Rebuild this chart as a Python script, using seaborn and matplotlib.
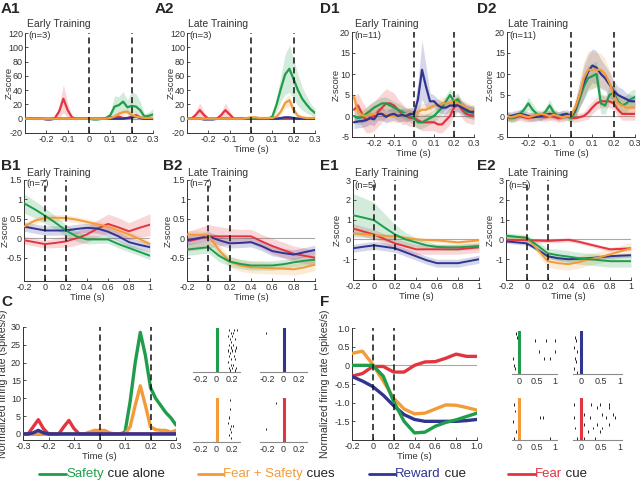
import numpy as np
import pandas as pd
import matplotlib
matplotlib.use("Agg")
import matplotlib.pyplot as plt
import seaborn as sns
from matplotlib.lines import Line2D

sns.set_style("ticks")
plt.rcParams["font.family"] = ["Liberation Sans", "DejaVu Sans"]

GREEN = "#1f9d4b"
ORANGE = "#f29b38"
BLUE = "#2f3590"
RED = "#e2353f"
W, H = 640, 493

# time bins
t_fine = np.round(np.arange(-0.3, 0.3001, 0.02), 2)   # A, C, D panels
t_coarse = np.round(np.arange(-0.2, 1.0001, 0.1), 1)  # B, E, F panels

# ---- A1 early training (n=3)
a1_green = [0,0,0,0,0,0,0,0,0,0,0,0,0,0,0,0,-1,-1,0,1,5,17,19,24,16,18,17,12,3,4,6]
a1_green_sem = [1,1,1,1,1,1,1,1,1,1,1,1,1,1,1,1,1,1,1,1,4,15,12,14,10,20,18,12,4,5,8]
a1_red = [0,0,0,0,0,0,0,1,10,28,12,2,0,0,0,0,0,0,0,1,2,1,3,1,1,2,5,2,0,0,0]
a1_red_sem = [1,1,1,1,1,1,1,2,8,20,10,2,1,1,1,1,1,1,1,1,2,1,2,1,1,2,3,2,1,1,1]
a1_orange = [0,0,0,0,0,0,0,0,0,0,0,0,0,0,0,0,0,0,0,0,1,3,7,9,10,5,3,2,1,1,1]
a1_orange_sem = [1,1,1,1,1,1,1,1,1,1,1,1,1,1,1,1,1,1,1,1,1,2,3,4,4,3,2,1,1,1,1]
a1_blue = [0,0,0,0,0,-1,-1,0,0,0,0,0,0,0,0,0,0,0,0,0,0,0,0,0,1,2,3,1,0,0,0]
a1_blue_sem = [1,1,1,1,1,1,1,1,1,1,1,1,1,1,1,1,1,1,1,1,1,1,1,1,1,1,1,1,1,1,1]

# ---- A2 late training (n=3)
a2_green = [0,0,0,0,0,0,0,0,0,0,0,0,0,0,0,0,0,0,0,0,3,20,42,62,70,55,40,28,20,13,8]
a2_green_sem = [1,1,1,1,1,1,1,1,1,1,1,1,1,1,1,1,1,1,1,1,2,10,18,28,33,28,22,16,12,8,6]
a2_red = [0,0,5,12,5,0,0,0,5,12,6,0,0,0,0,0,0,0,0,0,0,0,0,0,0,0,0,0,0,0,0]
a2_red_sem = [1,1,5,10,5,1,1,1,5,10,5,1,1,1,1,1,1,1,1,1,1,1,1,1,1,1,1,1,1,1,1]
a2_orange = [0,0,0,0,0,0,0,0,0,0,0,0,0,0,1,2,2,1,1,1,1,3,10,22,26,12,4,2,1,1,1]
a2_orange_sem = [1,1,1,1,1,1,1,1,1,1,1,1,1,1,1,1,1,1,1,1,1,2,4,7,8,5,2,1,1,1,1]
a2_blue = [0,0,0,0,-1,-1,-1,0,0,0,0,0,0,0,0,0,0,0,0,0,0,0,1,2,2,1,0,0,0,0,0]
a2_blue_sem = [1,1,1,1,1,1,1,1,1,1,1,1,1,1,1,1,1,1,1,1,1,1,1,1,1,1,1,1,1,1,1]

# ---- D1 early training (n=11)
d1_blue = [-1.5,-1.3,-1.2,-1.0,-0.5,-0.8,0.5,0.5,-0.2,0.3,0.5,0,0.3,0,0.5,0.5,4,11,7,3.5,3.5,2.5,2,2,2.5,2.5,2.5,2,1.5,1,1]
d1_blue_sem = [1.5,1.5,1.5,1.5,1.5,1.5,1.5,1.5,1.5,1.5,1.5,1.5,1.5,1.5,1.5,1.5,4,7,5,2,1.5,1.5,1.5,1.5,1.5,1.5,1.5,1.5,1.5,1.5,1.5]
d1_green = [0,-0.5,-0.3,0.5,1.2,2,2.5,3,3,2.5,2,1.5,1,0.5,0,-0.5,-1.5,-1.5,-1,-0.5,0,1,2,3.5,5,3.5,4,2,1,1,0.5]
d1_green_sem = [1.5,1.5,1.5,1.5,1.5,1.5,1.5,1.5,1.5,1.5,1.5,1.5,1.5,1.5,1.5,1.5,1.5,1.5,1.5,1.5,1.5,1.5,1.5,1.5,1.5,1.5,1.5,1.5,1.5,1.5,1.5]
d1_red = [1.5,2.5,0.5,-1,-0.5,0,1,2,3,3,2.5,1.5,0.5,0,-0.5,-0.5,-1,-1.5,-1.5,-1.5,-1.5,-2,-2,-1,0,2,3,1.5,0.5,0.2,0]
d1_red_sem = [3,3,3,3,3.5,3.5,3.5,3.5,3.5,3,3,2.5,2.5,2,2,2,2,2,2,2,2,2,2,2,2,2,2,2,2,2,2]
d1_orange = [4.5,1,0.2,0,0.3,0.5,0.5,0.5,0.3,0,0,0,0.3,0.5,0.5,0.5,1,1.5,1.5,2,2.5,2.5,3,3,3,3.5,3,2.5,2,1.5,1]
d1_orange_sem = [1.5,1.5,1.5,1.5,1.5,1.5,1.5,1.5,1.5,1.5,1.5,1.5,1.5,1.5,1.5,1.5,1.5,1.5,1.5,1.5,1.5,1.5,1.5,1.5,1.5,1.5,1.5,1.5,1.5,1.5,1.5]

# ---- D2 late training (n=11)
d2_blue = [0,0,0.3,0.5,0.3,0,-0.3,-0.2,0,0.3,0.5,0.3,0,0.3,0.5,0,1.5,5,8,10.5,12,11.5,10,9,7.5,6,5,4.5,4,3.5,3.5]
d2_blue_sem = [1,1,1,1,1,1,1,1,1,1,1,1,1,1,1,1,2,3,4,4,4,4,3.5,3,3,2.5,2,2,1.5,1.5,1.5]
d2_orange = [0,-0.3,0,0.3,0,-0.3,0,0.3,0.5,0.3,0,0.3,0,-0.3,0,0,2,5,9,11,11,11,11,10,8,5,3,2.5,2,2,2]
d2_orange_sem = [1,1,1,1,1,1,1,1,1,1,1,1,1,1,1,1,2,3,4,4.5,4.5,4,4,3.5,3,2.5,2,2,1.5,1.5,1.5]
d2_green = [0,-0.5,-0.3,0.5,1.5,3,1.5,0.5,0,1,2.5,0.8,0,0.3,0,-0.5,1,4,7,9,9.5,10,3,2.5,5,5.5,3.5,2.5,3,4,4.5]
d2_green_sem = [1,1,1,1,1,1.5,1.5,1,1,1,1.5,1,1,1,1,1,1.5,2,3,3,3,3,2.5,2,2,2,2,2,2,2,2]
d2_red = [-0.3,-0.5,-0.3,0,-0.3,-0.5,-0.3,0,-0.2,-0.3,0,-0.2,-0.5,-0.3,0,-0.3,-0.5,-0.3,0,0.8,2,3,3.5,3.5,3.5,3,1.5,0.5,0.5,0.5,0.5]
d2_red_sem = [1,1,1,1,1,1,1,1,1,1,1,1,1,1,1,1,1,1,1,1.5,1.5,1.5,1.5,1.5,1.5,1.5,1.5,1.5,1.5,1.5,1.5]

# ---- B1 / B2 (n=7)
b1_green = [0.9,0.75,0.58,0.4,0.2,0.05,-0.03,-0.03,-0.03,-0.15,-0.25,-0.35,-0.45]
b1_green_sem = [0.25,0.22,0.2,0.17,0.15,0.13,0.12,0.1,0.1,0.1,0.1,0.1,0.1]
b1_orange = [0.3,0.45,0.52,0.53,0.52,0.48,0.42,0.36,0.3,0.2,0.1,-0.02,-0.15]
b1_orange_sem = [0.08,0.08,0.08,0.08,0.08,0.08,0.08,0.08,0.08,0.08,0.08,0.08,0.08]
b1_blue = [0.3,0.25,0.2,0.2,0.2,0.24,0.27,0.25,0.17,0.05,-0.1,-0.17,-0.23]
b1_blue_sem = [0.12,0.12,0.12,0.12,0.12,0.12,0.12,0.12,0.12,0.12,0.12,0.12,0.12]
b1_red = [-0.05,-0.1,-0.15,-0.12,-0.08,0.0,0.1,0.25,0.37,0.28,0.18,0.27,0.35]
b1_red_sem = [0.1,0.1,0.1,0.12,0.15,0.18,0.2,0.22,0.25,0.25,0.22,0.25,0.28]

b2_green = [-0.29,-0.26,-0.23,-0.45,-0.6,-0.66,-0.7,-0.7,-0.7,-0.67,-0.62,-0.58,-0.55]
b2_green_sem = [0.15,0.15,0.15,0.15,0.12,0.12,0.12,0.12,0.12,0.12,0.12,0.12,0.12]
b2_orange = [0.1,0.09,0.07,-0.3,-0.6,-0.7,-0.75,-0.76,-0.77,-0.78,-0.8,-0.75,-0.68]
b2_orange_sem = [0.1,0.1,0.1,0.12,0.15,0.15,0.15,0.15,0.15,0.15,0.15,0.15,0.15]
b2_blue = [-0.05,0.0,0.05,-0.05,-0.13,-0.12,-0.1,-0.2,-0.33,-0.38,-0.42,-0.36,-0.3]
b2_blue_sem = [0.12,0.12,0.12,0.12,0.12,0.12,0.12,0.12,0.12,0.12,0.12,0.12,0.12]
b2_red = [-0.08,-0.02,0.05,0.05,0.05,0.05,0.05,-0.08,-0.2,-0.3,-0.4,-0.45,-0.5]
b2_red_sem = [0.25,0.28,0.3,0.25,0.2,0.18,0.18,0.18,0.2,0.2,0.2,0.2,0.2]

# ---- E1 / E2 (n=5)
e1_green = [1.22,1.1,0.97,0.6,0.25,0.0,-0.15,-0.3,-0.38,-0.4,-0.4,-0.37,-0.33]
e1_green_sem = [1.1,1.0,0.9,0.7,0.5,0.35,0.25,0.2,0.15,0.15,0.15,0.15,0.15]
e1_orange = [0.3,0.27,0.22,0.18,0.15,0.08,0.0,-0.03,-0.05,-0.1,-0.15,-0.1,-0.05]
e1_orange_sem = [0.1,0.1,0.1,0.1,0.1,0.1,0.1,0.1,0.1,0.1,0.1,0.1,0.1]
e1_red = [0.55,0.4,0.25,0.02,-0.2,-0.35,-0.5,-0.5,-0.5,-0.5,-0.5,-0.45,-0.4]
e1_red_sem = [0.25,0.25,0.25,0.25,0.25,0.25,0.25,0.25,0.25,0.25,0.25,0.25,0.25]
e1_blue = [-0.45,-0.37,-0.3,-0.37,-0.45,-0.65,-0.85,-1.05,-1.2,-1.2,-1.2,-1.1,-1.0]
e1_blue_sem = [0.2,0.2,0.2,0.2,0.2,0.2,0.2,0.2,0.2,0.2,0.2,0.2,0.2]

e2_green = [0.19,0.13,0.08,-0.3,-0.7,-0.8,-0.87,-0.95,-1.0,-1.05,-1.1,-1.1,-1.1]
e2_green_sem = [0.15,0.15,0.15,0.2,0.25,0.3,0.3,0.3,0.3,0.3,0.3,0.3,0.3]
e2_orange = [0.15,0.12,0.08,-0.5,-1.1,-1.2,-1.25,-1.15,-1.0,-0.9,-0.75,-0.6,-0.45]
e2_orange_sem = [0.1,0.1,0.1,0.2,0.3,0.3,0.3,0.3,0.3,0.3,0.3,0.3,0.3]
e2_blue = [-0.1,-0.15,-0.2,-0.5,-0.85,-0.95,-1.0,-0.98,-0.95,-0.9,-0.85,-0.82,-0.8]
e2_blue_sem = [0.1,0.1,0.1,0.1,0.1,0.1,0.1,0.1,0.1,0.1,0.1,0.1,0.1]
e2_red = [-0.02,-0.03,-0.05,-0.06,-0.08,-0.05,-0.02,-0.12,-0.25,-0.38,-0.5,-0.48,-0.45]
e2_red_sem = [0.1,0.1,0.1,0.1,0.1,0.1,0.1,0.1,0.1,0.1,0.1,0.1,0.1]

# ---- C single neuron firing rate
c_green = [0,0,0,0,0,0,0,0,0,0,0,0,0,0,0,0,0,0,0,0,0.5,9,20,28.5,22,13,10,8,6,4.5,2.5]
c_orange = [0,0,0,0,0,0,0,0,0,0,0,0,0,0.5,1,1,1,0.3,0,0,0,2,8,13.5,8,2,1.2,1,1,0.5,1]
c_red = [0,0,2,4,1.5,0,0,0,2,3.8,1.5,0,0,0,0,0,0,0,0,0,0,0,0,0,0,0,0,0,0,0,0]
c_blue = [0,0,0.3,1,0.3,0,0,0,0,0,0,0,0,0,0,0,0,0,0,0,0,0,0,0,0,0,0,0,0,0,0]

# C rasters (spike time, trial row)
c_green_spk = [0.16,0.22,0.26,0.18,0.21,0.15,0.2,0.17,0.24,0.19,0.16,0.21,0.18,0.25,0.15,0.2,0.23,0.17,0.16,0.22,0.19,0.24,0.15,0.18,0.21,0.16,0.2,0.25,0.17,0.23]
c_green_row = [0,0,0,1,1,2,2,3,3,4,5,5,6,6,7,7,7,8,9,9,10,10,11,12,12,13,13,13,14,14]
c_blue_spk = [-0.22]
c_blue_row = [1]
c_orange_spk = [0.17,0.17,0.16,0.15,0.18,0.21,0.17,0.19,0.16,0.18,0.01]
c_orange_row = [0,3,6,8,9,9,10,11,12,13,7]
c_red_spk = [-0.1,-0.22]
c_red_row = [1,10]

# ---- F single neuron firing rate
f_green = [0,0,0,-0.29,-0.97,-1.5,-1.81,-1.79,-1.63,-1.53,-1.46,-1.37,-1.28]
f_orange = [0.32,0.38,0.02,-0.42,-0.88,-1.17,-1.3,-1.28,-1.17,-1.06,-1.07,-1.13,-1.2]
f_blue = [-0.3,-0.42,-0.57,-0.8,-1.08,-1.32,-1.45,-1.5,-1.5,-1.5,-1.5,-1.48,-1.45]
f_red = [-0.29,-0.22,-0.03,-0.03,-0.18,-0.18,0.0,0.09,0.1,0.19,0.3,0.24,0.24]

f_green_spk = [-0.1,-0.05,0.44,0.75,1.0,0.56,1.0,0.69,0.86,-0.16,-0.15,-0.12]
f_green_row = [0,1,2,2,2,5,5,7,7,7,9,10]
f_blue_spk = [-0.15,-0.12,-0.17,-0.1,-0.15,-0.13,-0.18,-0.1]
f_blue_row = [1,2,4,5,7,8,10,11]
f_orange_spk = [-0.15,-0.12,-0.16,-0.1,-0.14,0.58,0.66,0.86]
f_orange_row = [1,3,6,9,11,5,5,11]
f_red_spk = [-0.18,0.27,0.5,0.72, 0.0,0.41,0.71, 0.09,0.54,0.81, -0.18,0.23,0.63,0.86,
             0.09,0.41,0.72, -0.14,0.32,0.54, 0.0,0.18,0.5, -0.09,0.09,0.36]
f_red_row = [1,1,1,1, 2,2,2, 4,4,4, 5,5,5,5, 7,7,7, 8,8,8, 9,9,9, 11,11,11]

fig = plt.figure(figsize=(6.4, 4.93), dpi=100)


def rect(x0, y0, x1, y1):
    return [x0 / W, 1 - y1 / H, (x1 - x0) / W, (y1 - y0) / H]


def ftext(x, y, s, **kw):
    return fig.text(x / W, 1 - y / H, s, **kw)


def lab(v):
    return "0" if abs(v) < 1e-9 else f"{v:g}"


def style(ax):
    sns.despine(ax=ax)
    for s in ["left", "bottom"]:
        ax.spines[s].set_linewidth(0.7)
        ax.spines[s].set_color("#333333")
    ax.tick_params(direction="in", length=2, width=0.6, labelsize=6.5,
                   pad=1.5, colors="#333333")


def trace(box, t, series, xlim, ylim, xticks, yticks, lw, ylx, ylabel="Z-score",
          xlabel=True, zero=True, xtl=None, ytl=None, ylsize=6.8):
    ax = fig.add_axes(rect(*box))
    if zero:
        ax.axhline(0, color="#a8a8a8", lw=0.8, zorder=1)
    for y, sem, c in series:
        if sem is not None:
            y = np.asarray(y, float)
            sem = np.asarray(sem, float)
            ax.fill_between(t, y - sem, y + sem, color=c, alpha=0.2, lw=0, zorder=2)
    for y, sem, c in series:
        sns.lineplot(x=t, y=y, color=c, lw=lw, ax=ax, zorder=3)
    for v in (0, 0.2):
        ax.axvline(v, color="#111111", lw=1.1, ls=(0, (4, 2.5)), zorder=4)
    ax.set_xlim(*xlim)
    ax.set_ylim(*ylim)
    ax.set_xticks(xticks)
    ax.set_xticklabels(xtl if xtl else [lab(v) for v in xticks])
    ax.set_yticks(yticks)
    ax.set_yticklabels(ytl if ytl else [lab(v) for v in yticks])
    style(ax)
    ax.set_ylabel(ylabel, fontsize=ylsize, color="#333333")
    ax.yaxis.set_label_coords(ylx, 0.5)
    ax.set_xlabel("Time (s)" if xlabel else "", fontsize=6.8, labelpad=1,
                  color="#333333")
    return ax


def raster(box, spk, rows, nrows, c, xlim, xticks, xtl):
    ax = fig.add_axes(rect(*box))
    rows = np.asarray(rows, float)
    ax.vlines(spk, rows - 0.4, rows + 0.4, color="#222222", lw=0.7)
    ax.axvline(0, color=c, lw=2.2)
    ax.set_xlim(*xlim)
    ax.set_ylim(nrows - 0.5, -0.8)
    ax.set_yticks([])
    ax.set_xticks(xticks)
    ax.set_xticklabels(xtl)
    for s in ["left", "top", "right"]:
        ax.spines[s].set_visible(False)
    ax.spines["bottom"].set_color("#8a8a8a")
    ax.spines["bottom"].set_linewidth(0.8)
    ax.tick_params(length=0, labelsize=6.5, pad=2, colors="#333333")
    ax.set_facecolor("none")
    return ax


xt_a = [-0.2, -0.1, 0, 0.1, 0.2, 0.3]
xt_b = [-0.2, 0, 0.2, 0.4, 0.6, 0.8, 1.0]

# row 1
trace((25, 33, 153, 133), t_fine,
      [(a1_red, a1_red_sem, RED), (a1_blue, a1_blue_sem, BLUE),
       (a1_green, a1_green_sem, GREEN), (a1_orange, a1_orange_sem, ORANGE)],
      (-0.3, 0.3), (-20, 120), xt_a, list(range(-20, 121, 20)), 1.6, -0.085,
      xlabel=False)
trace((187, 33, 315, 133), t_fine,
      [(a2_red, a2_red_sem, RED), (a2_blue, a2_blue_sem, BLUE),
       (a2_green, a2_green_sem, GREEN), (a2_orange, a2_orange_sem, ORANGE)],
      (-0.3, 0.3), (-20, 120), xt_a, list(range(-20, 121, 20)), 1.6, -0.085)
trace((352, 32, 474, 137), t_fine,
      [(d1_red, d1_red_sem, RED), (d1_green, d1_green_sem, GREEN),
       (d1_orange, d1_orange_sem, ORANGE), (d1_blue, d1_blue_sem, BLUE)],
      (-0.31, 0.3), (-5, 20), xt_a, [-5, 0, 5, 10, 15, 20], 1.6, -0.09)
trace((507, 32, 635, 137), t_fine,
      [(d2_red, d2_red_sem, RED), (d2_green, d2_green_sem, GREEN),
       (d2_blue, d2_blue_sem, BLUE), (d2_orange, d2_orange_sem, ORANGE)],
      (-0.3, 0.3), (-5, 20), xt_a, [-5, 0, 5, 10, 15, 20], 1.6, -0.095)

# row 2
trace((24, 180, 150, 281), t_coarse,
      [(b1_red, b1_red_sem, RED), (b1_blue, b1_blue_sem, BLUE),
       (b1_orange, b1_orange_sem, ORANGE), (b1_green, b1_green_sem, GREEN)],
      (-0.2, 1.0), (-1.1, 1.5), xt_b, [-0.5, 0, 0.5, 1, 1.5], 1.4, -0.11)
trace((187, 180, 315, 281), t_coarse,
      [(b2_red, b2_red_sem, RED), (b2_blue, b2_blue_sem, BLUE),
       (b2_orange, b2_orange_sem, ORANGE), (b2_green, b2_green_sem, GREEN)],
      (-0.2, 1.0), (-1.1, 1.5), xt_b, [-0.5, 0, 0.5, 1, 1.5], 1.4, -0.11)
trace((353, 180, 479, 280), t_coarse,
      [(e1_red, e1_red_sem, RED), (e1_blue, e1_blue_sem, BLUE),
       (e1_orange, e1_orange_sem, ORANGE), (e1_green, e1_green_sem, GREEN)],
      (-0.2, 1.0), (-2.05, 3), xt_b, [-1, 0, 1, 2, 3], 1.4, -0.09)
trace((506, 180, 631, 280), t_coarse,
      [(e2_red, e2_red_sem, RED), (e2_blue, e2_blue_sem, BLUE),
       (e2_orange, e2_orange_sem, ORANGE), (e2_green, e2_green_sem, GREEN)],
      (-0.2, 1.0), (-2.05, 3), xt_b, [-1, 0, 1, 2, 3], 1.4, -0.09)

# row 3: single neurons
trace((23, 327, 176, 440), t_fine,
      [(c_green, None, GREEN), (c_orange, None, ORANGE),
       (c_red, None, RED), (c_blue, None, BLUE)],
      (-0.3, 0.3), (-1.7, 30), [-0.3, -0.2, -0.1, 0, 0.1, 0.2, 0.3],
      [0, 5, 10, 15, 20, 25, 30], 2.4, -0.095,
      ylabel="Normalized firing rate (spikes/s)", zero=False, ylsize=7.6)
trace((352, 328, 477, 440), t_coarse,
      [(f_red, None, RED), (f_orange, None, ORANGE),
       (f_blue, None, BLUE), (f_green, None, GREEN)],
      (-0.2, 1.0), (-2, 1), xt_b, [-1.5, -1, -0.5, 0, 0.5, 1], 2.4, -0.175,
      ylabel="Normalized firing rate (spikes/s)", ylsize=7.6,
      xtl=["-0.2", "0", "0.2", "0.4", "0.6", "0.8", "1.0"],
      ytl=["-1.5", "-1.0", "-0.5", "0", "0.5", "1.0"])

cx = (-0.3, 0.3)
cxt = [-0.2, 0, 0.2]
cxl = ["-0.2", "0", "0.2"]
raster((193, 328, 240, 372), c_green_spk, c_green_row, 15, GREEN, cx, cxt, cxl)
raster((260, 328, 307, 372), c_blue_spk, c_blue_row, 15, BLUE, cx, cxt, cxl)
raster((193, 398, 240, 442), c_orange_spk, c_orange_row, 15, ORANGE, cx, cxt, cxl)
raster((260, 398, 307, 442), c_red_spk, c_red_row, 15, RED, cx, cxt, cxl)

fx = (-0.2, 1.05)
fxt = [0, 0.5, 1]
fxl = ["0", "0.5", "1"]
raster((512, 331, 557, 374), f_green_spk, f_green_row, 12, GREEN, fx, fxt, fxl)
raster((573, 331, 622, 374), f_blue_spk, f_blue_row, 12, BLUE, fx, fxt, fxl)
raster((512, 398, 557, 440), f_orange_spk, f_orange_row, 12, ORANGE, fx, fxt, fxl)
raster((573, 398, 622, 440), f_red_spk, f_red_row, 12, RED, fx, fxt, fxl)

# panel letters and titles
for s, x, y in [("A1", 1, 2), ("A2", 155, 2), ("D1", 320, 2), ("D2", 477, 2),
                ("B1", 1, 159), ("B2", 163, 159), ("E1", 320, 159), ("E2", 477, 159),
                ("C", 1, 295), ("F", 320, 295)]:
    ftext(x, y, s, fontsize=11, fontweight="bold", va="top", ha="left")

for s, x, y in [("Early Training", 27, 24), ("Late Training", 188, 24),
                ("Early Training", 355, 24), ("Late Training", 508, 24),
                ("Early Training", 27, 173), ("Late Training", 188, 173),
                ("Early Training", 355, 173), ("Late Training", 508, 173)]:
    ftext(x, y, s, fontsize=7.5, va="center", ha="left", color="#333333")

for s, x, y in [("(n=3)", 28, 35), ("(n=3)", 189, 35), ("(n=11)", 354, 36),
                ("(n=11)", 509, 36), ("(n=7)", 26, 184), ("(n=7)", 189, 184),
                ("(n=5)", 354, 185), ("(n=5)", 508, 185)]:
    ftext(x, y, s, fontsize=6.8, va="center", ha="left", color="#333333")

# legend with coloured words
renderer = fig.canvas.get_renderer()
ly = 1 - 474 / H
for c, word, rest, lx0, lx1 in [(GREEN, "Safety", " cue alone", 39, 66),
                                (ORANGE, "Fear + Safety", " cues", 198, 223),
                                (BLUE, "Reward", " cue", 369, 395),
                                (RED, "Fear", " cue", 508, 535)]:
    fig.add_artist(Line2D([lx0 / W, lx1 / W], [ly, ly], color=c, lw=2))
    t1 = fig.text(lx1 / W, ly, word, color=c, fontsize=9.5, va="center")
    bb = t1.get_window_extent(renderer)
    fig.text(bb.x1 / fig.bbox.width, ly, rest, color="#222222", fontsize=9.5,
             va="center")

fig.savefig("out.png", dpi=100)
